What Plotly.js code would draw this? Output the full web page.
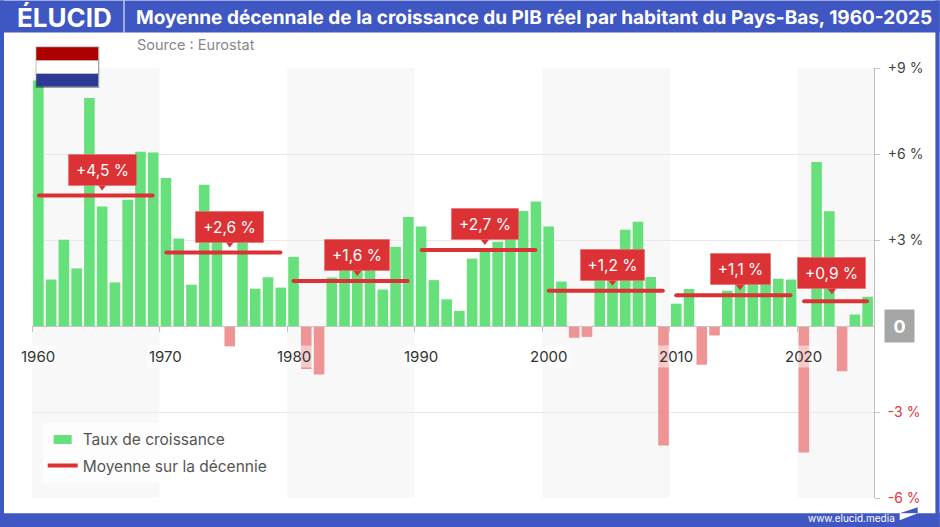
<!DOCTYPE html>
<html>
<head>
<meta charset="utf-8">
<script src="https://cdn.plot.ly/plotly-3.0.1.min.js"></script>
<style>
html, body { margin: 0; padding: 0; background: #fff; }
.scatterlayer .js-line { stroke-linecap: round; }
.gtitle { text-rendering: geometricPrecision; }
</style>
</head>
<body>
<div id="chart" style="width:940px;height:527px"></div>
<script>
const years = [];
for (let y = 1960; y <= 2025; y++) years.push(y);

const growth = [
    8.56, 1.62, 3.01, 2.01, 7.95, 4.17, 1.52, 4.40, 6.08, 6.05,
    5.16, 3.05, 1.44, 4.93, 3.00, -0.71, 3.50, 1.30, 1.70, 1.34,
    2.41, -1.50, -1.69, 1.69, 2.50, 2.10, 2.20, 1.27, 2.76, 3.80,
    3.47, 1.60, 0.93, 0.53, 2.35, 2.70, 2.94, 3.40, 4.01, 4.34,
    3.47, 1.55, -0.41, -0.38, 1.90, 1.90, 3.36, 3.64, 1.71, -4.17,
    0.78, 1.29, -1.35, -0.33, 1.23, 1.50, 1.60, 2.20, 1.65, 1.62,
    -4.41, 5.72, 4.00, -1.58, 0.40, 1.02
];

const avgStart = [1960.05, 1970.03, 1980, 1990.05, 2000, 2010, 2020.02];
const avgEnd = [1968.95, 1978.97, 1988.95, 1998.95, 2008.95, 2018.95, 2024.95];
const avgValues = [4.55, 2.56, 1.57, 2.65, 1.23, 1.07, 0.86];
const avgLabels = ['+4,5 %', '+2,6 %', '+1,6 %', '+2,7 %', '+1,2 %', '+1,1 %', '+0,9 %'];
const avgLabelYears = [1965, 1975, 1985, 1995, 2005, 2015, 2022.2];
const avgLabelWidths = [68, 68, 65, 67, 64, 60, 68];
const avgLabelGaps = [10, 10, 10, 10, 10, 10, 12];

const decades = [1960, 1970, 1980, 1990, 2000, 2010, 2020];
const decadeLabels = ['1960', '1970', '1980', '1990', '2000', '2010', '2020'];
const yTicks = [-6, -3, 3, 6, 9];
const yTickLabels = [
    '<span style="color:#e5333a">-6 %</span>',
    '<span style="color:#e5333a">-3 %</span>',
    '+3 %', '+6 %', '+9 %'
];

const BLUE = '#3f57c2';
const RED = '#dc3235';
const FONT = 'Inter, Lato, sans-serif';
const W = 940, H = 527;
const M = { l: 32.3, r: 65.7, t: 67.5, b: 29.3 };
const plotW = W - M.l - M.r, plotH = H - M.t - M.b;
const pxPerPct = plotH / 15;

// page pixels to paper fractions, for the frame around the chart
const px = x => (x - M.l) / plotW;
const py = y => 1 - (y - M.t) / plotH;

function pageRect(x0, y0, x1, y1, color, layer) {
    return {
        type: 'rect', xref: 'paper', yref: 'paper', layer: layer || 'below',
        x0: px(x0), x1: px(x1), y0: py(y0), y1: py(y1),
        fillcolor: color, line: { width: 0 }
    };
}

function pagePath(points, color) {
    const d = points.map((p, i) => (i ? 'L' : 'M') + px(p[0]) + ',' + py(p[1])).join(' ') + ' Z';
    return { type: 'path', xref: 'paper', yref: 'paper', layer: 'above', path: d, fillcolor: color, line: { width: 0 } };
}

const shapes = [
    pageRect(0, 0, 940, 32, BLUE),
    pageRect(0, 513, 940, 527, BLUE),
    pageRect(0, 0, 4.3, 527, BLUE),
    pageRect(935.7, 0, 940, 527, BLUE),
    pageRect(123.8, 0, 124.8, 32, '#ffffff'),
    pageRect(36, 46, 99.6, 87.6, 'rgba(0,0,0,0.35)', 'above'),
    pageRect(36.7, 46.7, 98.3, 60, '#ae0000', 'above'),
    pageRect(36.7, 60, 98.3, 73.3, '#ffffff', 'above'),
    pageRect(36.7, 73.3, 98.3, 86, '#2d3a94', 'above'),
    pagePath([[900, 513], [918, 507], [918, 513]], BLUE),
    pagePath([[900, 513], [918, 513], [900, 520]], '#ffffff')
];

// grey bands on every other decade
decades.filter((d, i) => i % 2 === 0).forEach(d => {
    shapes.push({
        type: 'rect', xref: 'x', yref: 'paper', layer: 'below',
        x0: d - 0.5, x1: Math.min(d + 9.5, 2025.5), y0: 0, y1: 1,
        fillcolor: '#f8f8f8', line: { width: 0 }
    });
});

const avgX = [], avgY = [];
avgValues.forEach((v, i) => {
    avgX.push(avgStart[i], avgEnd[i], null);
    avgY.push(v, v, null);
});

const annotations = [];
decades.forEach((d, i) => {
    annotations.push({
        x: d, y: 0, xref: 'x', yref: 'y', yshift: -30, xanchor: 'center', yanchor: 'middle', showarrow: false,
        text: decadeLabels[i], font: { family: FONT, size: 15, color: '#333' },
        bgcolor: 'rgba(255,255,255,0.5)'
    });
});
avgLabels.forEach((t, i) => {
    annotations.push({
        x: avgLabelYears[i], y: avgValues[i], xref: 'x', yref: 'y', xanchor: 'center',
        yanchor: 'bottom', yshift: avgLabelGaps[i], showarrow: false,
        text: t, width: avgLabelWidths[i], height: 31, borderpad: 0, valign: 'middle',
        bgcolor: RED, bordercolor: 'rgba(240,170,170,0.7)', borderwidth: 0.5,
        font: { family: FONT, size: 15.5, color: '#fff' }
    });
});
annotations.push(
    { xref: 'paper', yref: 'y', x: px(900), y: 0, xanchor: 'center', yanchor: 'middle', showarrow: false, text: '<b>0</b>', width: 29, height: 32, borderpad: 0,
      bgcolor: '#a6a6a6', font: { family: FONT, size: 18, color: '#fff' } },
    { xref: 'paper', yref: 'paper', x: px(15), y: py(17), xanchor: 'left', yanchor: 'middle', showarrow: false,
      text: '<b>ÉLUCID</b>', font: { family: FONT, size: 26, color: '#fff' } },
    { xref: 'paper', yref: 'paper', x: px(135.5), y: py(44), xanchor: 'left', yanchor: 'middle', showarrow: false,
      text: 'Source : Eurostat', font: { family: FONT, size: 14.5, color: '#888' } },
    { xref: 'paper', yref: 'paper', x: px(897), y: py(518), xanchor: 'right', yanchor: 'middle', showarrow: false,
      text: 'www.elucid.media', font: { family: FONT, size: 10, color: '#fff' } }
);

const traces = [
    {
        type: 'bar', name: 'Taux de croissance', x: years, y: growth, width: 0.83,
        marker: { color: growth.map(v => v < 0 ? '#ee9494' : '#65e07a') },
        legendgroup: 'a'
    },
    {
        type: 'scatter', mode: 'lines', name: 'Moyenne sur la décennie', x: avgX, y: avgY,
        line: { color: RED, width: 4 }, connectgaps: false, legendgroup: 'b'
    },
    {
        type: 'scatter', mode: 'markers', x: avgLabelYears,
        y: avgValues.map((v, i) => v + avgLabelGaps[i] / pxPerPct),
        marker: { symbol: 'triangle-down', size: 10, color: RED }, showlegend: false
    }
];

const layout = {
    width: W, height: H,
    margin: { l: M.l, r: M.r, t: M.t, b: M.b, pad: 0 },
    paper_bgcolor: '#fff', plot_bgcolor: 'rgba(0,0,0,0)',
    font: { family: FONT },
    title: {
        text: '<b>Moyenne décennale de la croissance du PIB réel par habitant du Pays-Bas, 1960-2025</b>',
        xref: 'container', yref: 'container', x: 136 / W, y: 1 - 17 / H, xanchor: 'left', yanchor: 'middle',
        font: { family: FONT, size: 19, color: '#fff' }
    },
    xaxis: {
        range: [1959.5, 2025.5], anchor: 'free', position: 0.4, showgrid: false, zeroline: false,
        showline: true, linecolor: '#c4c4c4', linewidth: 1,
        tickmode: 'array', tickvals: decades.map(d => d - 0.5), ticks: 'outside', ticklen: 5, tickcolor: '#c4c4c4',
        showticklabels: false
    },
    yaxis: {
        range: [-6, 9], side: 'right', anchor: 'x', zeroline: false,
        showline: true, linecolor: '#bdbdbd', linewidth: 1,
        showgrid: true, gridcolor: '#e8e8e8', gridwidth: 1,
        tickmode: 'array', tickvals: yTicks, ticktext: yTickLabels,
        ticks: 'outside', ticklen: 5, tickcolor: '#c4c4c4', ticklabelstandoff: 5,
        tickfont: { family: FONT, size: 14, color: '#444' }
    },
    bargap: 0.17,
    showlegend: true,
    legend: {
        x: px(43), y: py(422.5), xanchor: 'left', yanchor: 'top',
        bgcolor: 'rgba(255,255,255,0.75)', borderwidth: 0,
        traceorder: 'grouped', tracegroupgap: 3,
        font: { family: FONT, size: 15.5, color: '#555' }, itemwidth: 30
    },
    shapes: shapes,
    annotations: annotations,
    hovermode: false
};

Plotly.newPlot('chart', traces, layout, { displayModeBar: false, staticPlot: true }).then(() => {
    // flatter legend swatch for the bars
    document.querySelectorAll('.legendpoints path').forEach(p => {
        const d = p.getAttribute('d') || '';
        if (d.includes('H-6')) p.setAttribute('d', 'M9,4.5H-9V-4.5H9Z');
    });
});
</script>
</body>
</html>
